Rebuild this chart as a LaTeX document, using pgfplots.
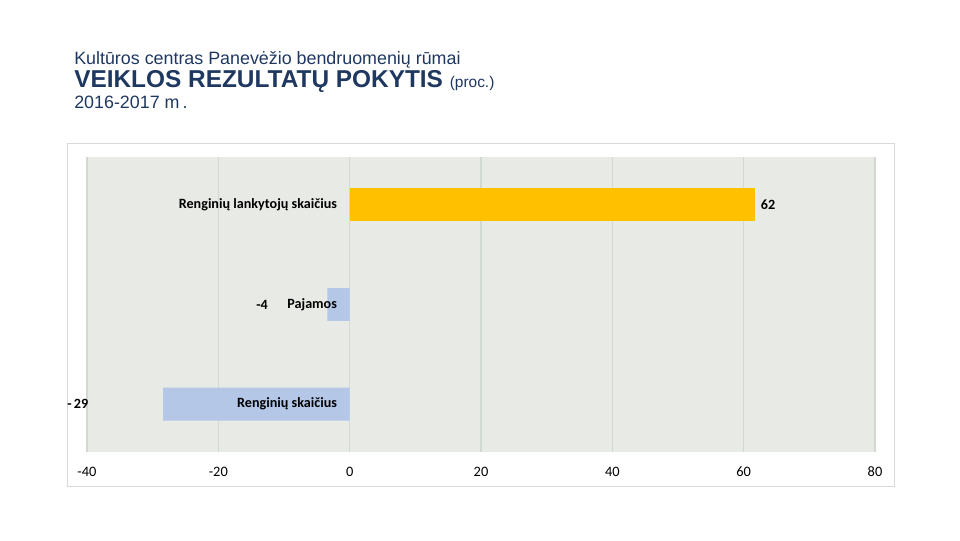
\documentclass[border=0pt]{standalone}
\usepackage{pgfplots}
\pgfplotsset{compat=1.18}
\usepackage{fontspec}
\setmainfont{Liberation Sans}
\newfontfamily\carl{Carlito}
\definecolor{titleblue}{RGB}{31,56,96}
\definecolor{gold}{RGB}{255,192,0}
\definecolor{lblue}{RGB}{180,199,231}
\definecolor{bgdot}{RGB}{232,234,229}
\definecolor{gridc}{RGB}{210,216,210}
\definecolor{framec}{RGB}{217,217,217}
\begin{document}
\begin{tikzpicture}[x=0.75pt,y=0.75pt]
\path[use as bounding box] (0,0) rectangle (960,540);
\node[anchor=base west, text=titleblue, inner sep=0pt, font=\fontsize{13.4}{15}\selectfont] at (74,475) {Kultūros centras Panevėžio bendruomenių rūmai};
\node[anchor=base west, text=titleblue, inner sep=0pt] at (74,452) {\fontsize{18.3}{20}\selectfont\bfseries VEIKLOS REZULTATŲ POKYTIS \fontsize{11.6}{13}\selectfont\mdseries (proc.)};
\node[anchor=base west, text=titleblue, inner sep=0pt, font=\fontsize{13.4}{15}\selectfont] at (74,431) {2016-2017 m\,.};
\draw[framec, fill=white] (67,54) rectangle (894,397);
\begin{axis}[at={(65.25pt,66pt)}, anchor=south west, scale only axis,
  width=591pt, height=221.25pt,
  xbar, bar width=0.33,
  xmin=-40, xmax=80, ymin=-0.48, ymax=2.48,
  xtick={-40,-20,0,20,40,60,80}, ytick=\empty,
  xmajorgrids, major grid style={gridc, line width=0.8pt},
  axis line style={draw=none}, tick style={draw=none},
  axis background/.style={fill=bgdot},
  clip=false,
  /pgf/number format/assume math mode=true,
  xticklabel style={font=\carl\fontsize{10.8}{12}\selectfont, yshift=-7.5pt},
]
\addplot[fill=lblue, draw=none, bar shift=0pt] coordinates {(-28.4,0) (-3.4,1)};
\addplot[fill=gold, draw=none, bar shift=0pt] coordinates {(61.7,2)};
\node[anchor=east, font=\carl\bfseries\fontsize{10.6}{12}\selectfont, xshift=-6pt] at (axis cs:0,2) {Renginių lankytojų skaičius};
\node[anchor=east, font=\carl\bfseries\fontsize{10.6}{12}\selectfont, xshift=-6pt] at (axis cs:0,1) {Pajamos};
\node[anchor=east, font=\carl\bfseries\fontsize{10.6}{12}\selectfont, xshift=-6pt] at (axis cs:0,0) {Renginių skaičius};
\node[anchor=west, font=\carl\bfseries\fontsize{10.6}{12}\selectfont, xshift=1pt] at (axis cs:61.7,2) {62};
\node[anchor=center, font=\carl\bfseries\fontsize{10.6}{12}\selectfont] at (axis cs:-13.35,1) {-4};
\node[anchor=center, font=\carl\bfseries\fontsize{10.6}{12}\selectfont] at (axis cs:-41.4,0) {-\,29};
\end{axis}
\end{tikzpicture}
\end{document}
